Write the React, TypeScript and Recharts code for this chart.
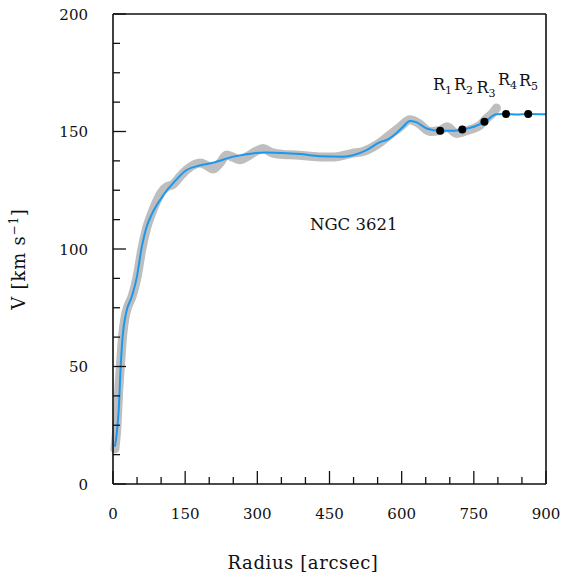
import React from 'react';
import { ComposedChart, Line, Scatter, XAxis, YAxis } from 'recharts';

// observed rotation curve (gray band)
const obsRadius = [4, 8, 12, 16, 20, 25, 30, 40, 50, 60, 70, 80, 90, 100, 112, 125, 140, 155, 170, 181, 195, 208, 222, 236, 250, 264, 280, 296, 312, 330, 354, 380, 410, 430, 460, 499, 520, 548, 575, 597, 617, 635, 659, 680, 694, 714, 730, 745, 762, 777, 790, 797];
const obsVel = [15, 24, 40, 52, 63, 71, 75, 80, 88, 100, 109, 115, 120, 124, 126.5, 127.5, 131, 134, 136, 136.6, 135.5, 134, 136.5, 140, 139, 138, 139.5, 141.5, 142.8, 141, 140.2, 140, 139.5, 139.2, 139.2, 140.8, 141.5, 144.3, 148.5, 152, 155, 153.5, 150, 150.5, 152, 149.2, 150, 151, 152.5, 155.6, 158, 160];

// model curve (blue)
const modelRadius = [4, 8, 12, 16, 20, 27, 39, 49, 60, 70, 80, 91, 100, 112, 125, 136, 153, 180, 208, 250, 319, 389, 430, 478, 527, 555, 569, 590, 603, 617, 630, 652, 680, 705, 728, 750, 773, 797, 817, 840, 863, 900];
const modelVel = [15.9, 22, 32, 50, 62.7, 72.6, 79.7, 87.5, 101, 109.5, 114.5, 118.7, 121.5, 125, 128, 130.5, 133.6, 135.5, 136.7, 139.3, 141.1, 140.4, 139.5, 139.3, 142.1, 145.5, 146.4, 149.5, 152, 154.5, 154, 151.3, 150.3, 150.3, 150.9, 152, 154.2, 157.3, 157.4, 157.2, 157.4, 157.3];

// R1..R5 points
const ringRadius = [680, 726, 772, 817, 863];
const ringVel = [150.3, 150.9, 154.2, 157.4, 157.4];

const xTicks = [0, 50, 100, 150, 200, 250, 300, 350, 400, 450, 500, 550, 600, 650, 700, 750, 800, 850, 900];
const yTicks = [0, 12.5, 25, 37.5, 50, 62.5, 75, 87.5, 100, 112.5, 125, 137.5, 150, 162.5, 175, 187.5, 200];

const obsData = obsRadius.map((r, i) => ({ r, v: obsVel[i] }));
const modelData = modelRadius.map((r, i) => ({ r, v: modelVel[i] }));
const ringData = ringRadius.map((r, i) => ({ r, v: ringVel[i] }));

const FONT = '"DejaVu Serif", serif';
const MAJ = 13;
const MIN = 7;

const BottomTick = ({ x, y, payload }: any) => {
  const major = payload.value % 150 === 0;
  return (
    <g>
      <line x1={x} x2={x} y1={y} y2={y - (major ? MAJ : MIN)} stroke="#111" strokeWidth={1.3} />
      {major && (
        <text x={x} y={y + 35} textAnchor="middle" fontFamily={FONT} fontSize={15} fill="#111">
          {payload.value}
        </text>
      )}
    </g>
  );
};

const TopTick = ({ x, y, payload }: any) => {
  const major = payload.value % 150 === 0;
  return <line x1={x} x2={x} y1={y} y2={y + (major ? MAJ : MIN)} stroke="#111" strokeWidth={1.3} />;
};

const LeftTick = ({ x, y, payload }: any) => {
  const major = payload.value % 50 === 0;
  return (
    <g>
      <line x1={x} x2={x + (major ? MAJ : MIN)} y1={y} y2={y} stroke="#111" strokeWidth={1.3} />
      {major && (
        <text x={88} y={y + 5.5} textAnchor="end" fontFamily={FONT} fontSize={15} fill="#111">
          {payload.value}
        </text>
      )}
    </g>
  );
};

const RightTick = ({ x, y, payload }: any) => {
  const major = payload.value % 50 === 0;
  return <line x1={x} x2={x - (major ? MAJ : MIN)} y1={y} y2={y} stroke="#111" strokeWidth={1.3} />;
};

const Dot = (props: any) => <circle cx={props.cx} cy={props.cy} r={4} fill="#000" />;

const rLabels = [
  { n: '1', left: 433, top: 76.5 },
  { n: '2', left: 454, top: 76.5 },
  { n: '3', left: 476.5, top: 80 },
  { n: '4', left: 498, top: 72 },
  { n: '5', left: 519, top: 73 },
];

export default function App() {
  const axisLine = { stroke: '#111', strokeWidth: 1.6 };
  return (
    <div style={{ position: 'absolute', left: 0, top: 0, width: 564, height: 580, background: '#fff', fontFamily: FONT, color: '#111' }}>
      <ComposedChart width={564} height={580} margin={{ top: 4, right: 8, bottom: 66, left: 53 }}>
        <XAxis dataKey="r" type="number" domain={[0, 900]} ticks={xTicks} interval={0}
          tickSize={0} tickMargin={0} height={30} axisLine={axisLine} tick={(p: any) => <BottomTick {...p} />} />
        <XAxis xAxisId="top" orientation="top" dataKey="r" type="number" domain={[0, 900]} ticks={xTicks} interval={0}
          tickSize={0} tickMargin={0} height={10} axisLine={axisLine} tick={(p: any) => <TopTick {...p} />} />
        <YAxis dataKey="v" type="number" domain={[0, 200]} ticks={yTicks} interval={0}
          tickSize={0} tickMargin={0} width={60} axisLine={axisLine} tick={(p: any) => <LeftTick {...p} />} />
        <YAxis yAxisId="right" orientation="right" dataKey="v" type="number" domain={[0, 200]} ticks={yTicks} interval={0}
          tickSize={0} tickMargin={0} width={10} axisLine={axisLine} tick={(p: any) => <RightTick {...p} />} />
        <Line data={obsData} dataKey="v" type="monotone" stroke="#bebebe" strokeWidth={9} strokeLinecap="round"
          strokeLinejoin="round" dot={false} activeDot={false} isAnimationActive={false} />
        <Line data={modelData} dataKey="v" type="monotone" stroke="#1a98f0" strokeWidth={2} dot={false}
          activeDot={false} isAnimationActive={false} />
        <Scatter data={ringData} dataKey="v" shape={<Dot />} isAnimationActive={false} />
      </ComposedChart>

      <div style={{ position: 'absolute', left: 303, top: 562, transform: 'translate(-50%, -50%)', fontSize: 18, letterSpacing: 0.6, whiteSpace: 'nowrap' }}>
        Radius [arcsec]
      </div>
      <div style={{ position: 'absolute', left: 18, top: 259, transform: 'translate(-50%, -50%) rotate(-90deg)', fontSize: 18, letterSpacing: 0.8, whiteSpace: 'nowrap' }}>
        V [km s<sup style={{ fontSize: 12 }}>−1</sup>]
      </div>
      <div style={{ position: 'absolute', left: 310, top: 217, fontSize: 16.5, lineHeight: '16px', whiteSpace: 'nowrap' }}>
        NGC 3621
      </div>
      {rLabels.map((l) => (
        <div key={l.n} style={{ position: 'absolute', left: l.left, top: l.top, fontSize: 16, lineHeight: '16px', whiteSpace: 'nowrap' }}>
          R<span style={{ fontSize: 11, position: 'relative', top: 4 }}>{l.n}</span>
        </div>
      ))}
    </div>
  );
}
